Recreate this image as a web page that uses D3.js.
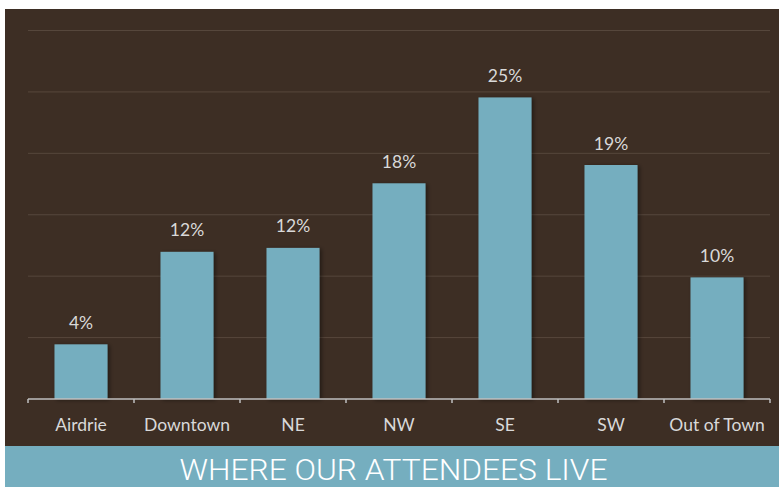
<!DOCTYPE html>
<html>
<head>
<meta charset="utf-8">
<script src="https://cdn.jsdelivr.net/npm/d3@7"></script>
<style>
  html, body { margin: 0; padding: 0; background: #ffffff; }
  svg { display: block; }
</style>
</head>
<body>
<svg id="chart" width="779" height="487"></svg>
<script>
const categories = ["Airdrie", "Downtown", "NE", "NW", "SE", "SW", "Out of Town"];
const values = [4.45, 11.98, 12.3, 17.56, 24.55, 19.05, 9.9];
const gridTicks = [5, 10, 15, 20, 25, 30];
const title = "WHERE OUR ATTENDEES LIVE";

const svg = d3.select("#chart");
const W = 779, H = 487;

const defs = svg.append("defs");
const f = defs.append("filter").attr("id", "shadow").attr("x", "-20%").attr("y", "-10%").attr("width", "150%").attr("height", "130%");
f.append("feDropShadow").attr("dx", 2).attr("dy", 1).attr("stdDeviation", 2)
  .attr("flood-color", "#000").attr("flood-opacity", 0.45);

// panel backgrounds
svg.append("rect").attr("x", 5).attr("y", 9).attr("width", W - 5).attr("height", 437).attr("fill", "#3d2e24");
svg.append("rect").attr("x", 5).attr("y", 446).attr("width", W - 5).attr("height", H - 446).attr("fill", "#75aebf");

const x = d3.scaleBand().domain(categories).range([28, 770]).paddingInner(0.5).paddingOuter(0.25);
const y = d3.scaleLinear().domain([0, 30]).range([399, 30.5]);

// gridlines
svg.append("g").selectAll("line").data(gridTicks).join("line")
  .attr("x1", 28).attr("x2", 770)
  .attr("y1", d => y(d)).attr("y2", d => y(d))
  .attr("stroke", "#56473c").attr("stroke-width", 1);

// bars
svg.append("g").selectAll("rect").data(values).join("rect")
  .attr("x", (d, i) => x(categories[i]))
  .attr("y", d => y(d))
  .attr("width", x.bandwidth())
  .attr("height", d => y(0) - y(d))
  .attr("fill", "#75aebf")
  .attr("filter", "url(#shadow)");

// value labels
const fmt = d3.format(".0f");
svg.append("g").selectAll("text").data(values).join("text")
  .attr("x", (d, i) => x(categories[i]) + x.bandwidth() / 2)
  .attr("y", d => y(d) - 15.5)
  .attr("text-anchor", "middle")
  .attr("font-family", "Lato, 'Noto Sans', sans-serif")
  .attr("font-size", 17.5)
  .attr("fill", "#d9d9d9")
  .text(d => fmt(d) + "%");

// x axis
const xAxis = d3.axisBottom(x).tickSize(0).tickPadding(0);
const ax = svg.append("g").attr("transform", "translate(0,399)").call(xAxis);
ax.select(".domain").remove();
ax.selectAll("text").remove();
ax.append("line").attr("x1", 28).attr("x2", 770).attr("y1", 0).attr("y2", 0)
  .attr("stroke", "#bfbfbf").attr("stroke-width", 1.5);
const boundaries = d3.range(categories.length + 1).map(i => 28 + i * (742 / categories.length));
ax.selectAll("line.tk").data(boundaries).join("line").attr("class", "tk")
  .attr("x1", d => d).attr("x2", d => d).attr("y1", 0).attr("y2", 4)
  .attr("stroke", "#bfbfbf").attr("stroke-width", 1.5);
ax.selectAll("text.cat").data(categories).join("text").attr("class", "cat")
  .attr("x", d => x(d) + x.bandwidth() / 2)
  .attr("y", 32)
  .attr("text-anchor", "middle")
  .attr("font-family", "Lato, 'Noto Sans', sans-serif")
  .attr("font-size", 17.5)
  .attr("fill", "#d9d9d9")
  .text(d => d);

// title
svg.append("text")
  .attr("transform", "translate(393.5,479.5) scale(1.076,1)")
  .attr("text-anchor", "middle")
  .attr("font-family", "Roboto, sans-serif")
  .attr("font-weight", 300)
  .attr("font-size", 29.5)
  .attr("fill", "#ffffff")
  .text(title);
</script>
</body>
</html>
